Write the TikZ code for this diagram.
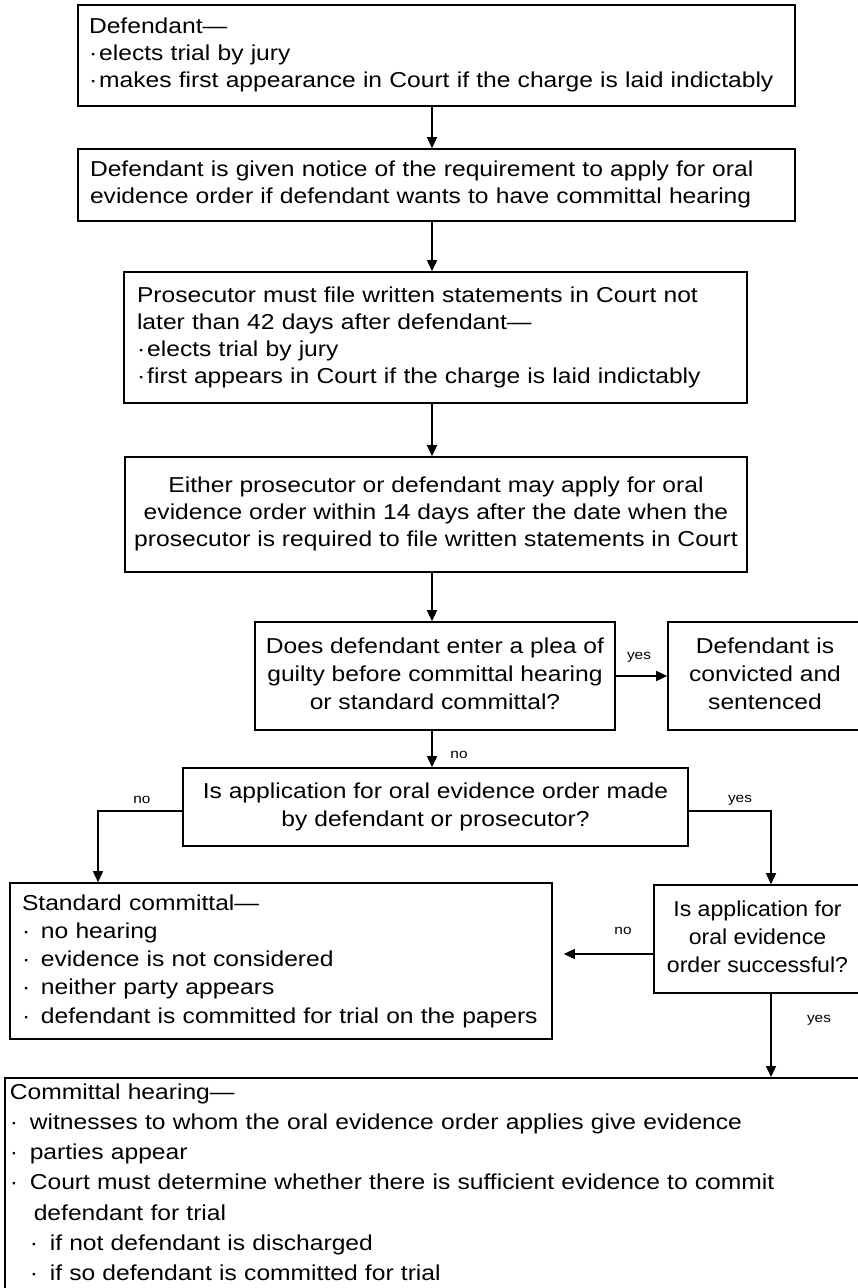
\documentclass[tikz,border=0pt]{standalone}
\usepackage{fontspec}
\setmainfont[FakeStretch=1.14]{Liberation Sans}
\usetikzlibrary{arrows.meta}
\newcommand\TL[1]{\begin{tabular}{@{}l@{}}#1\end{tabular}}
\newcommand\TC[1]{\begin{tabular}{@{}c@{}}#1\end{tabular}}
\newcommand\bdot{\makebox[19pt][l]{·}}
\newcommand\tdot{·\hspace{2pt}}
\begin{document}
\begin{tikzpicture}[x=1pt,y=-1pt,
  box/.style={draw=black, line width=1.6pt, inner sep=0pt, font=\fontsize{21.6}{27}\selectfont},
  mid/.style={font=\fontsize{21.6}{28.3}\selectfont},
  lbl/.style={font=\fontsize{13.5}{15}\selectfont, inner sep=0pt},
  arr/.style={line width=1.4pt, -{Triangle[length=11pt,width=10pt]}}]
\fill[white] (0,0) rectangle (857,1288);
\useasboundingbox (0,0) rectangle (857,1288);
\coordinate (sp) at (432,0);
\coordinate (lx) at (98,0);
\coordinate (rx) at (771,0);

\node[box, minimum width=717pt, minimum height=101pt, text width=695pt, align=left] (b1) at (436.5,55.5)
  {\TL{Defendant—\\\tdot elects trial by jury\\\tdot makes first appearance in Court if the charge is laid indictably}};
\node[box, minimum width=717pt, minimum height=72pt, text width=693pt, align=left] (b2) at (436.5,185)
  {\TL{Defendant is given notice of the requirement to apply for oral\\evidence order if defendant wants to have committal hearing}};
\node[box, minimum width=623pt, minimum height=131pt, text width=597pt, align=left] (b3) at (435.5,337.5)
  {\TL{Prosecutor must file written statements in Court not\\later than 42 days after defendant—\\\tdot elects trial by jury\\\tdot first appears in Court if the charge is laid indictably}};
\node[box, minimum width=622pt, minimum height=115pt, align=center] (b4) at (436,514.5)
  {\TC{Either prosecutor or defendant may apply for oral\\evidence order within 14 days after the date when the\\prosecutor is required to file written statements in Court}};
\node[box, mid, minimum width=360pt, minimum height=108pt, align=center] (b5) at (435,676)
  {\TC{Does defendant enter a plea of\\guilty before committal hearing\\or standard committal?}};
\node[box, mid, minimum width=194pt, minimum height=108pt, align=center] (conv) at (765,676)
  {\TC{Defendant is\\convicted and\\sentenced}};
\node[box, mid, minimum width=505pt, minimum height=78pt, align=center] (b6) at (435.5,807)
  {\TC{Is application for oral evidence order made\\by defendant or prosecutor?}};
\node[box, font=\fontsize{21.6}{28.3}\selectfont\addfontfeatures{FakeStretch=1.07}, minimum width=207pt, minimum height=108pt, align=center] (b7) at (757.5,939)
  {\TC{Is application for\\oral evidence\\order successful?}};
\node[box, mid, minimum width=542pt, minimum height=156pt, text width=518pt, align=left] (std) at (281,961)
  {\TL{Standard committal—\\\bdot no hearing\\\bdot evidence is not considered\\\bdot neither party appears\\\bdot defendant is committed for trial on the papers}};
\node[box, font=\fontsize{21.6}{30.3}\selectfont, anchor=north west, minimum width=861pt, text width=851pt, align=left] (commit) at (4,1077)
  {\TL{Committal hearing—\\\makebox[20pt][l]{·}witnesses to whom the oral evidence order applies give evidence\\\makebox[20pt][l]{·}parties appear\\\makebox[20pt][l]{·}Court must determine whether there is sufficient evidence to commit\\\hspace*{24pt}defendant for trial\\\hspace*{20pt}\makebox[20pt][l]{·}if not defendant is discharged\\\hspace*{20pt}\makebox[20pt][l]{·}if so defendant is committed for trial}};

\draw[arr] (b1.south -| sp) -- (b2.north -| sp);
\draw[arr] (b2.south -| sp) -- (b3.north -| sp);
\draw[arr] (b3.south -| sp) -- (b4.north -| sp);
\draw[arr] (b4.south -| sp) -- (b5.north -| sp);
\draw[arr] (b5.east) -- (conv.west);
\draw[arr] (b5.south -| sp) -- (b6.north -| sp);
\draw[arr] ([yshift=-4pt]b6.west) -| (std.north -| lx);
\draw[arr] ([yshift=-4pt]b6.east) -| (b7.north -| rx);
\draw[arr, shorten >=11pt] ([yshift=-15pt]b7.west) -- ([yshift=-15pt]b7.west -| std.east);
\draw[arr] (b7.south -| rx) -- (commit.north -| rx);

\node[lbl] (l1) at (639,657) {yes};
\node[lbl] (l2) at (459,755) {no};
\node[lbl] (l3) at (142,800) {no};
\node[lbl] (l4) at (740,800) {yes};
\node[lbl] (l5) at (623,931) {no};
\node[lbl] (l6) at (819,1020) {yes};
\end{tikzpicture}
\end{document}
